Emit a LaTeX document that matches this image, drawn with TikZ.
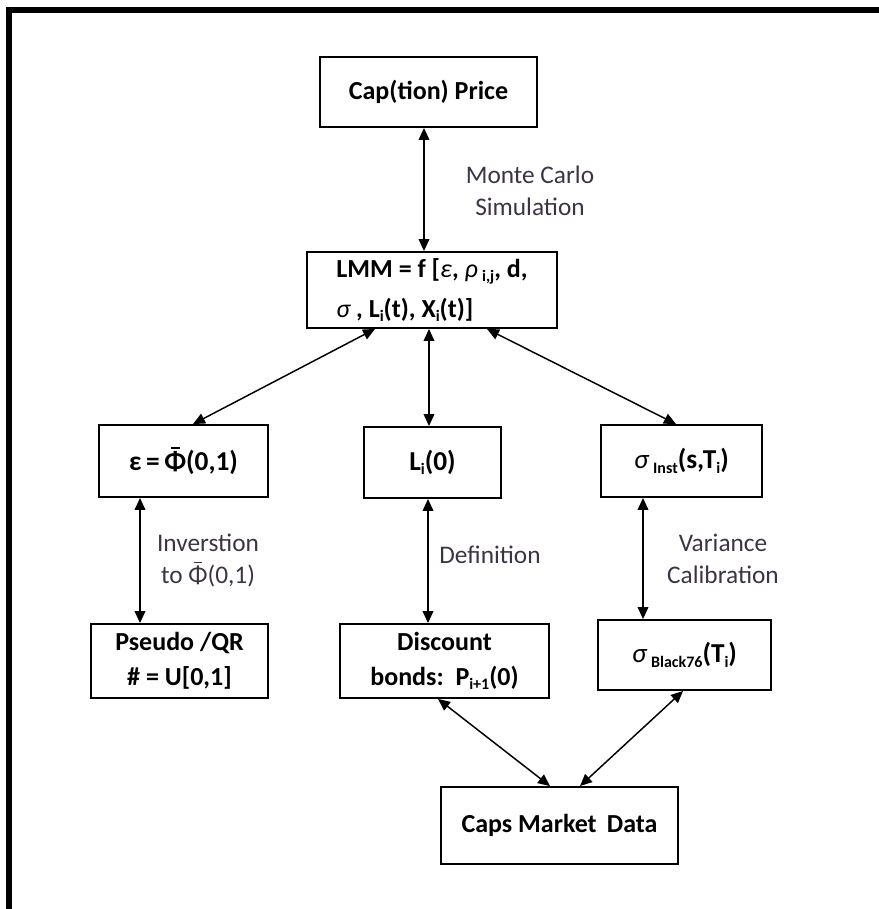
\documentclass[tikz,border=0pt]{standalone}
\usepackage{fontspec}
\setmainfont{Carlito}
\usetikzlibrary{arrows.meta,calc}
\definecolor{labcol}{HTML}{3C3446}
\newcommand\sbs[1]{\raisebox{-0.35ex}{\fontsize{12}{12}\selectfont #1}}
\newcommand\gk[1]{{\normalfont\itshape #1}}
\newcommand\phibar{{\setbox0\hbox{Φ}\rlap{\hbox to\wd0{\hss\raisebox{1.12\ht0}{\rule{0.42\wd0}{0.055em}}\hss}}Φ}}
\begin{document}
\begin{tikzpicture}[x=0.75pt,y=-0.75pt,
  box/.style 2 args={draw, line width=1.4pt, inner sep=0pt,
    minimum width=#1*0.75pt, minimum height=#2*0.75pt, align=center,
    font=\bfseries\fontsize{19.5}{26}\selectfont},
  lab/.style={align=center, text=labcol, font=\fontsize{19}{24}\selectfont},
  dbl/.style={line width=1.1pt, {Triangle[length=9pt,width=8pt]}-{Triangle[length=9pt,width=8pt]}}]
\useasboundingbox (0,0) rectangle (878,909);
% outer frame (partly outside the page)
\draw[line width=5pt, line join=miter] (9,960) -- (9,10) -- (960,10);

% boxes
\node[box={217}{70}] (cap) at (428.5,92) {Cap(tion) Price};
\node[box={250}{76}, align=left, font=\bfseries\fontsize{19.5}{30}\selectfont] (lmm) at (432,290)
  {LMM = f [\gk{ε}, \gk{ρ}\,\sbs{i,j}, d,\\\gk{σ} , L\sbs{i}(t), X\sbs{i}(t)]};
\node[box={169}{72}, font=\bfseries\fontsize{20.5}{26}\selectfont] (eps) at (183.5,461) {ε\,=\,\phibar(0,1)};
\node[box={137}{71}, font=\bfseries\fontsize{20.5}{26}\selectfont] (li) at (432.5,462.5) {L\sbs{i}(0)};
\node[box={161}{72}, font=\bfseries\fontsize{20.5}{26}\selectfont] (sinst) at (681.5,461) {\gk{σ}\,\sbs{Inst}(s,T\sbs{i})};
\node[box={177}{74}] (pseudo) at (179.5,661) {Pseudo /QR\\\# = U[0,1]};
\node[box={209}{74}] (disc) at (444.5,661) {Discount\\bonds:\ \ P\sbs{i+1}(0)};
\node[box={173}{70}, font=\bfseries\fontsize{20.5}{26}\selectfont] (sblack) at (684.5,655) {\gk{σ}\,\sbs{Black76}(T\sbs{i})};
\node[box={237}{77}] (caps) at (559.5,825.5) {Caps Market\ \,Data};

% labels
\node[lab] (mc) at (530,191) {Monte Carlo\\Simulation};
\node[lab] (inv) at (208,560) {Inverstion\\to \phibar(0,1)};
\node[lab] (def) at (490,555) {Definition};
\node[lab] (var) at (723,559) {Variance\\Calibration};

% connectors
\draw[dbl] ($(cap.south)+(-4.5,0)$) -- ($(lmm.north)+(-8,0)$);
\draw[dbl] ($(lmm.south)+(-57,0)$) -- ($(eps.north)+(9.5,0)$);
\draw[dbl] ($(lmm.south)+(-3,0)$) -- ($(li.north)+(-3.5,0)$);
\draw[dbl] ($(lmm.south)+(55,0)$) -- ($(sinst.north)+(-5.5,0)$);
\draw[dbl] ($(eps.south)+(-43.5,0)$) -- ($(pseudo.north)+(-39.5,0)$);
\draw[dbl] ($(li.south)+(-4.5,0)$) -- ($(disc.north)+(-16.5,0)$);
\draw[dbl] ($(sinst.south)+(-38.5,0)$) -- ($(sblack.north)+(-41.5,0)$);
\draw[dbl] ($(caps.north)+(-9.5,0)$) -- ($(disc.south)+(-6.5,0)$);
\draw[dbl] ($(caps.north)+(20.5,0)$) -- ($(sblack.south)+(-1.5,0)$);
\end{tikzpicture}
\end{document}
